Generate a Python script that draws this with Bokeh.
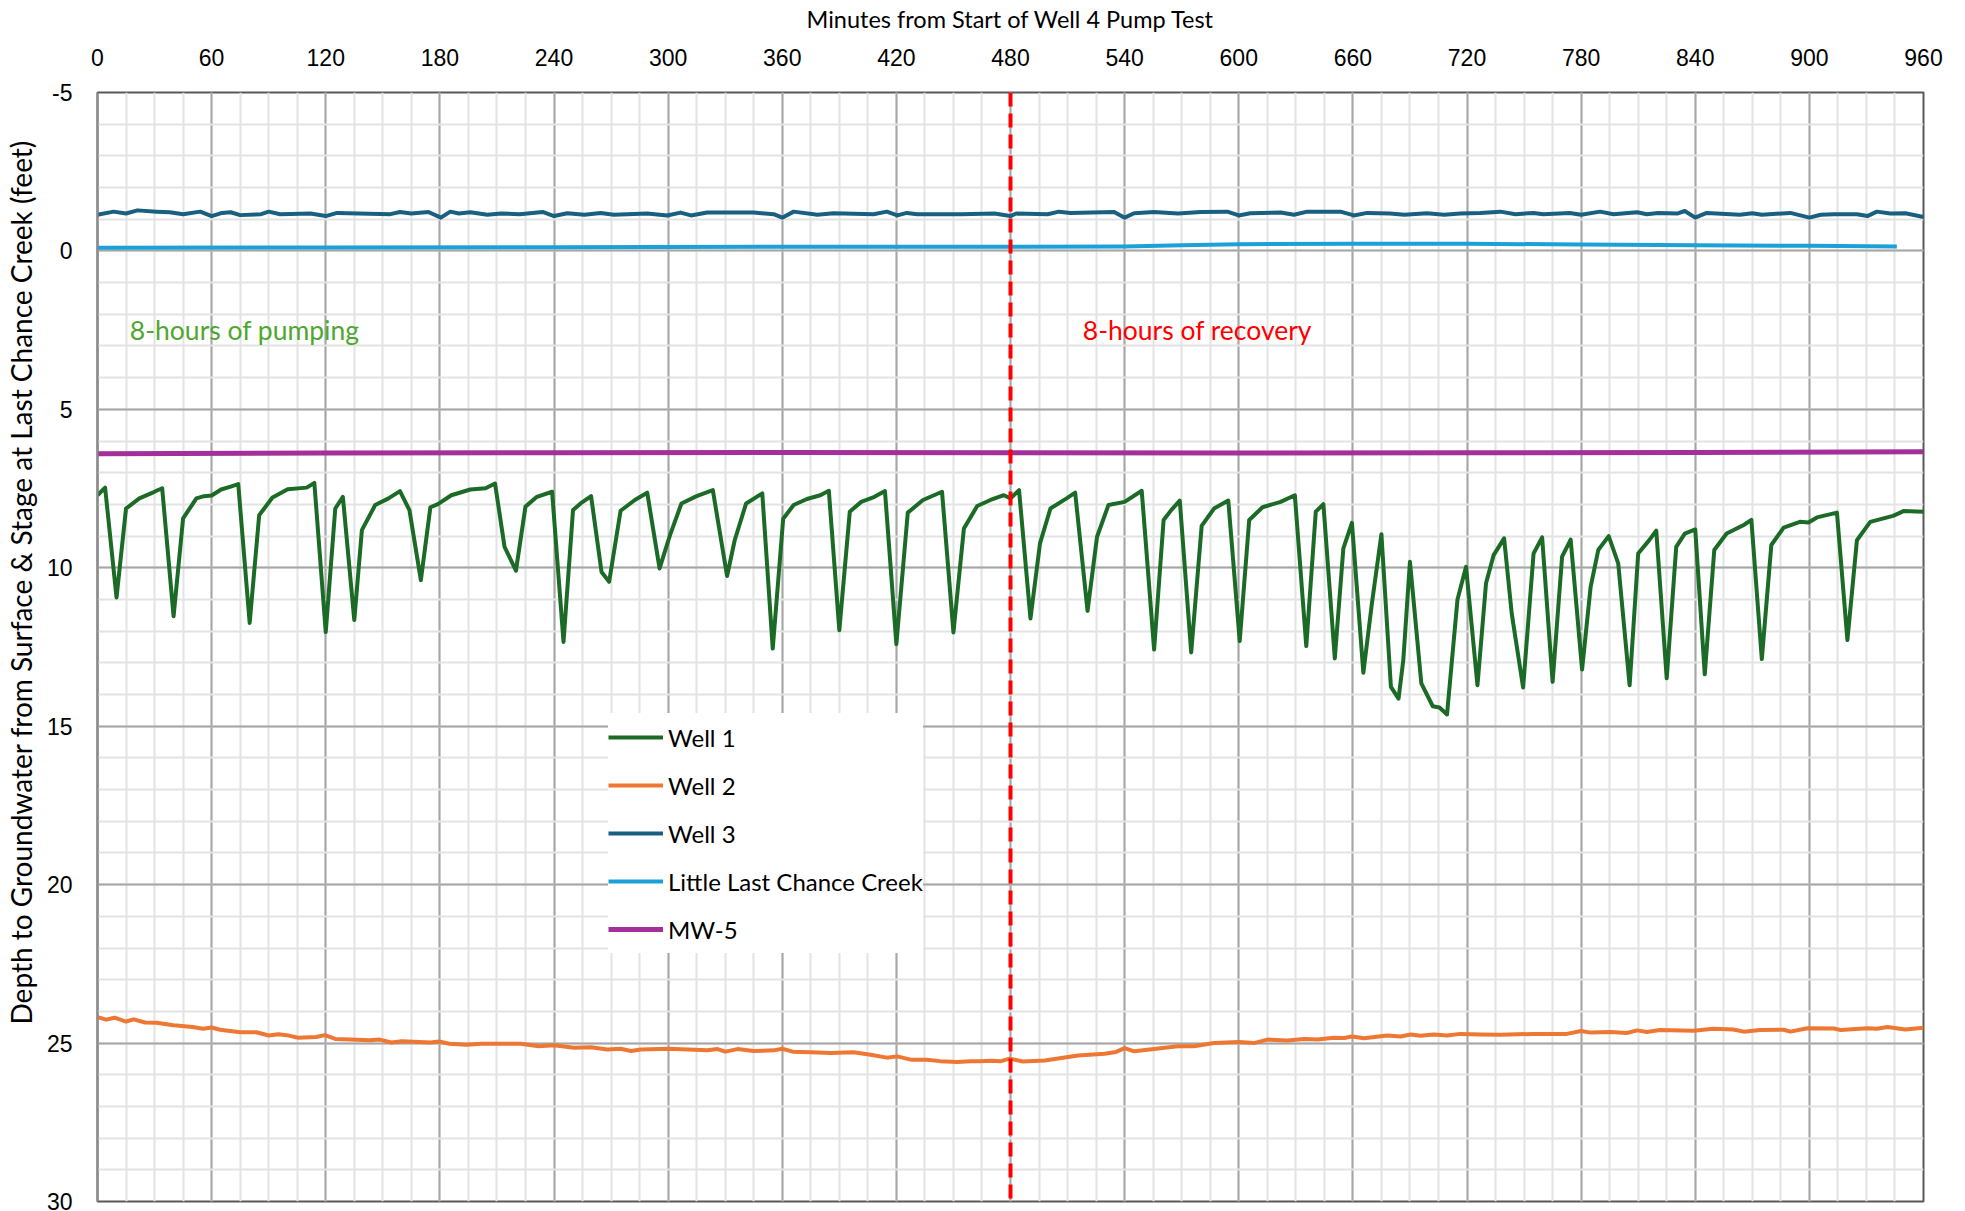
from bokeh.plotting import figure
from bokeh.models import (Range1d, FixedTicker, Legend, LegendItem, Span, Label, Title,
                          PrintfTickFormatter)
from bokeh.embed import file_html
from bokeh.resources import INLINE

# ---------------- data ----------------
x_ticks = list(range(0, 961, 60))
x_minor = list(range(0, 961, 15))
y_ticks = list(range(-5, 31, 5))
y_minor = list(range(-5, 31, 1))

series_names = ["Well 1", "Well 2", "Well 3", "Little Last Chance Creek", "MW-5"]

w1_t = [0, 4, 10, 15, 22, 29, 31, 34, 40, 45, 52, 56, 60, 65, 70, 74, 80, 85, 92, 100,
        110, 114, 120, 125, 129, 135, 139, 146, 153, 159, 164, 170, 175, 179, 186, 196,
        204, 209, 214, 220, 225, 231, 239, 245, 250, 254, 259.5, 265, 269, 275, 282.5,
        289, 295.5, 301, 307, 315, 323.5, 331, 335, 341, 349.5, 355, 360.5, 366, 373,
        380, 384.5, 390, 395.5, 401.5, 408.5, 414, 420, 426, 434, 444, 450, 455.5, 462.5,
        469.5, 476.5, 480, 484.5, 490.5, 495.5, 501, 509.5, 514, 520.5, 525.5, 531.5,
        540, 549, 555.5, 560.5, 564.5, 569, 575, 580.5, 587, 594.5, 600.5, 605.5, 612.5,
        622, 629.5, 635.5, 640.5, 644.5, 650.5, 655, 659.5, 665.5, 670, 675, 680, 684,
        686.5, 690, 696, 702, 705.5, 709.5, 715, 719.5, 725.5, 730, 734, 739.5, 743.5,
        749.5, 755, 759.5, 765, 770, 774.5, 780.5, 785, 789, 794.5, 799.5, 805.5, 810,
        815.5, 819.5, 825, 830, 834.5, 840, 845, 850, 856.5, 865.5, 869.5, 875, 880,
        886.5, 895, 899.5, 904, 914.5, 920, 925, 932, 944, 949.5, 960]
w1_v = [7.71, 7.47, 10.94, 8.13, 7.81, 7.63, 7.57, 7.49, 11.53, 8.44, 7.81, 7.74, 7.72,
        7.53, 7.44, 7.36, 11.74, 8.34, 7.78, 7.52, 7.47, 7.32, 12.03, 8.13, 7.76, 11.65,
        8.81, 8.02, 7.81, 7.58, 8.18, 10.39, 8.09, 7.99, 7.71, 7.53, 7.49, 7.34, 9.34,
        10.09, 8.07, 7.76, 7.60, 12.34, 8.18, 7.97, 7.74, 10.13, 10.44, 8.20, 7.86, 7.63,
        10.02, 8.97, 7.97, 7.74, 7.55, 10.26, 9.13, 7.97, 7.65, 12.55, 8.45, 8.02, 7.83,
        7.71, 7.57, 11.97, 8.23, 7.92, 7.76, 7.58, 12.41, 8.26, 7.86, 7.60, 12.04, 8.76,
        8.05, 7.86, 7.71, 7.81, 7.55, 11.60, 9.23, 8.13, 7.81, 7.63, 11.36, 9.02, 8.02,
        7.92, 7.57, 12.58, 8.49, 8.18, 7.88, 12.67, 8.68, 8.13, 7.88, 12.31, 8.49, 8.09,
        7.92, 7.71, 12.47, 8.23, 7.99, 12.86, 9.39, 8.58, 13.31, 11.13, 8.94, 13.76,
        14.13, 12.92, 9.81, 13.65, 14.37, 14.41, 14.63, 11.0, 9.97, 13.71, 10.49, 9.60,
        9.07, 11.44, 13.78, 9.55, 9.04, 13.60, 9.65, 9.11, 13.21, 10.60, 9.44, 9.00,
        9.86, 13.71, 9.55, 9.15, 8.83, 13.49, 9.34, 8.92, 8.79, 13.36, 9.44, 8.92, 8.65,
        8.49, 12.88, 9.28, 8.73, 8.55, 8.57, 8.41, 8.26, 12.28, 9.13, 8.55, 8.36, 8.21,
        8.23]

w2_t = [0, 4.5, 9, 15, 19, 25, 31, 40, 50, 55.5, 60, 64.5, 75, 83.5, 90, 95, 99.5, 105.5,
        115, 119.5, 125, 133, 143, 148.5, 154.5, 160, 175, 179.5, 185, 194, 202, 222.5,
        232, 240, 250.5, 259.5, 268, 275, 280.5, 285.5, 300.5, 320.5, 326, 330, 336.5,
        345, 355.5, 360, 365.5, 375, 385.5, 397.5, 406.5, 415, 420.5, 428, 436, 443, 452,
        459, 464, 470, 475, 479.5, 486.5, 498, 515.5, 529.5, 535.5, 540, 545, 555.5, 568,
        576.5, 587, 600, 608, 615, 625.5, 634.5, 641.5, 650, 655.5, 659.5, 666, 678, 685,
        690.5, 695.5, 702.5, 709.5, 716.5, 727, 737.5, 755, 772.5, 780, 785, 795.5, 804,
        809.5, 814.5, 821.5, 839, 849.5, 860, 865.5, 874, 886.5, 890, 899, 913, 916.5,
        930.5, 935.5, 941, 950.5, 960]
w2_v = [24.18, 24.26, 24.20, 24.32, 24.25, 24.35, 24.36, 24.44, 24.49, 24.55, 24.51,
        24.58, 24.66, 24.66, 24.76, 24.72, 24.75, 24.83, 24.81, 24.75, 24.87, 24.89,
        24.91, 24.89, 24.98, 24.94, 24.98, 24.95, 25.02, 25.05, 25.02, 25.02, 25.10,
        25.07, 25.15, 25.13, 25.20, 25.18, 25.25, 25.20, 25.18, 25.23, 25.19, 25.27,
        25.19, 25.25, 25.23, 25.18, 25.27, 25.29, 25.31, 25.29, 25.37, 25.46, 25.42,
        25.53, 25.53, 25.57, 25.60, 25.57, 25.57, 25.56, 25.57, 25.49, 25.58, 25.55,
        25.39, 25.34, 25.28, 25.16, 25.26, 25.19, 25.10, 25.10, 25.00, 24.97, 25.00,
        24.89, 24.92, 24.87, 24.89, 24.83, 24.84, 24.79, 24.85, 24.76, 24.79, 24.73,
        24.77, 24.73, 24.76, 24.71, 24.73, 24.74, 24.71, 24.71, 24.62, 24.67, 24.65,
        24.68, 24.60, 24.65, 24.59, 24.61, 24.55, 24.57, 24.64, 24.59, 24.58, 24.64,
        24.53, 24.54, 24.59, 24.53, 24.55, 24.49, 24.57, 24.52]

w3_t = [0, 8.5, 15, 21, 31, 38, 45, 54, 60, 65.5, 70, 75, 86, 90, 96, 112, 120, 126, 154,
        159, 165, 174, 180.5, 185.5, 190, 196, 205, 212, 222, 234, 240, 247, 256, 264.5,
        271.5, 289, 299.5, 306.5, 312, 320.5, 345, 355.5, 360, 366, 378.5, 387, 408, 415,
        420.5, 425.5, 431, 454, 471.5, 480, 483, 499.5, 505.5, 511.5, 534.5, 540, 545,
        555.5, 568, 580, 594, 600, 606, 622, 629, 636, 653.5, 660.5, 667.5, 679.5, 687,
        699, 708, 716.5, 727, 737.5, 745.5, 755, 760, 774, 780, 790, 797, 809.5, 814.5,
        820.5, 830.5, 834.5, 840, 846, 863.5, 870, 875, 890, 900, 906, 913, 925, 930.5,
        935.5, 942.5, 950.5, 960]
w3_v = [-1.14, -1.24, -1.18, -1.28, -1.24, -1.22, -1.16, -1.24, -1.10, -1.20, -1.22,
        -1.13, -1.16, -1.24, -1.16, -1.18, -1.10, -1.20, -1.16, -1.23, -1.18, -1.23,
        -1.05, -1.24, -1.18, -1.22, -1.14, -1.18, -1.16, -1.23, -1.10, -1.19, -1.14,
        -1.20, -1.14, -1.18, -1.12, -1.21, -1.12, -1.21, -1.21, -1.16, -1.05, -1.24,
        -1.14, -1.19, -1.16, -1.24, -1.12, -1.20, -1.16, -1.16, -1.18, -1.10, -1.18,
        -1.16, -1.24, -1.20, -1.23, -1.05, -1.19, -1.23, -1.18, -1.23, -1.24, -1.12,
        -1.19, -1.21, -1.14, -1.24, -1.24, -1.12, -1.20, -1.18, -1.14, -1.19, -1.14,
        -1.18, -1.20, -1.24, -1.16, -1.20, -1.16, -1.20, -1.14, -1.24, -1.16, -1.22,
        -1.16, -1.20, -1.18, -1.26, -1.05, -1.20, -1.14, -1.19, -1.14, -1.20, -1.05,
        -1.14, -1.16, -1.16, -1.10, -1.24, -1.18, -1.19, -1.07]

creek_t = [0, 120, 240, 360, 480, 540, 570, 600, 660, 720, 780, 840, 900, 946]
creek_v = [-0.10, -0.11, -0.12, -0.13, -0.13, -0.14, -0.18, -0.21, -0.23, -0.23, -0.20,
           -0.18, -0.16, -0.14]

mw5_t = [0, 120, 240, 360, 480, 600, 720, 840, 960]
mw5_v = [6.40, 6.38, 6.37, 6.36, 6.37, 6.38, 6.37, 6.36, 6.34]

pump_stop = 480
pump_label = "8-hours of pumping"
recov_label = "8-hours of recovery"
pump_label_pos = (17, 2.5)
recov_label_pos = (518, 2.5)
x_title = "Minutes from Start of Well 4 Pump Test"
y_title = "Depth to Groundwater from Surface & Stage at Last Chance Creek (feet)"

colors = ["#1b6b27", "#ee7733", "#185f80", "#1ba1d8", "#a3309a"]

# ---------------- figure ----------------
TICK_FONT = "Liberation Sans"
TEXT_FONT = "Lato"

p = figure(width=1960, height=1211, output_backend="svg", toolbar_location=None,
           x_range=Range1d(0, 960), y_range=Range1d(30, -5),
           x_axis_location="above",
           min_border_left=97, min_border_top=92, min_border_right=37, min_border_bottom=10)
p.background_fill_color = "white"
p.border_fill_color = "white"
p.outline_line_color = "#595959"
p.outline_line_width = 2

xa = p.xaxis[0]
xa.ticker = FixedTicker(ticks=x_ticks, minor_ticks=x_minor)
xa.axis_label = x_title
xa.axis_label_text_font = TEXT_FONT
xa.axis_label_text_font_size = "23.5px"
xa.axis_label_text_font_style = "normal"
xa.axis_label_text_color = "#000000"
xa.axis_label_standoff = 13
xa.major_label_standoff = 27
xa.major_label_text_font = TICK_FONT
xa.major_label_text_font_size = "23px"
xa.major_label_text_color = "#000000"
xa.major_tick_line_color = None
xa.minor_tick_line_color = None
xa.major_tick_out = 0
xa.minor_tick_out = 0
xa.major_tick_in = 0
xa.axis_line_color = None

ya = p.yaxis[0]
ya.ticker = FixedTicker(ticks=y_ticks, minor_ticks=y_minor)
ya.formatter = PrintfTickFormatter(format="%d")
ya.major_label_standoff = 25
ya.major_label_text_font = TICK_FONT
ya.major_label_text_font_size = "23px"
ya.major_label_text_color = "#000000"
ya.major_tick_line_color = None
ya.minor_tick_line_color = None
ya.major_tick_out = 0
ya.minor_tick_out = 0
ya.major_tick_in = 0
ya.axis_line_color = "#8c8c8c"
ya.axis_line_width = 2

p.add_layout(Title(text=y_title, align="left", offset=177, standoff=7,
                   vertical_align="top", text_font=TEXT_FONT, text_font_size="28px",
                   text_font_style="normal", text_color="#000000"), "left")

for g in (p.xgrid[0], p.ygrid[0]):
    g.grid_line_color = "#a6a6a6"
    g.grid_line_width = 2
    g.minor_grid_line_color = "#e3e3e3"
    g.minor_grid_line_width = 2

r1 = p.line(w1_t, w1_v, line_color=colors[0], line_width=4, line_join="round")
r2 = p.line(w2_t, w2_v, line_color=colors[1], line_width=4, line_join="round")
r3 = p.line(w3_t, w3_v, line_color=colors[2], line_width=4, line_join="round")
r4 = p.line(creek_t, creek_v, line_color=colors[3], line_width=4, line_join="round")
r5 = p.line(mw5_t, mw5_v, line_color=colors[4], line_width=5, line_join="round")

p.add_layout(Span(location=pump_stop, dimension="height", line_color="#ff0000",
                  line_width=4, line_dash="14 7"))

p.add_layout(Label(x=pump_label_pos[0], y=pump_label_pos[1], text=pump_label,
                   text_color="#4ea72e", text_font=TEXT_FONT, text_font_size="26.5px",
                   text_baseline="middle", text_align="left"))
p.add_layout(Label(x=recov_label_pos[0], y=recov_label_pos[1], text=recov_label,
                   text_color="#ff0000", text_font=TEXT_FONT, text_font_size="26.5px",
                   text_baseline="middle", text_align="left"))

legend = Legend(items=[LegendItem(label=n, renderers=[r]) for n, r in
                       zip(series_names, [r1, r2, r3, r4, r5])],
                location=(511, 248), padding=0, spacing=0, margin=0,
                glyph_width=55, glyph_height=48, label_height=48, label_standoff=5,
                label_text_font=TEXT_FONT, label_text_font_size="24px",
                label_text_color="#000000",
                background_fill_color="white", background_fill_alpha=1.0,
                border_line_color=None)
p.add_layout(legend)

open("out.html", "w").write(file_html(p, INLINE))
